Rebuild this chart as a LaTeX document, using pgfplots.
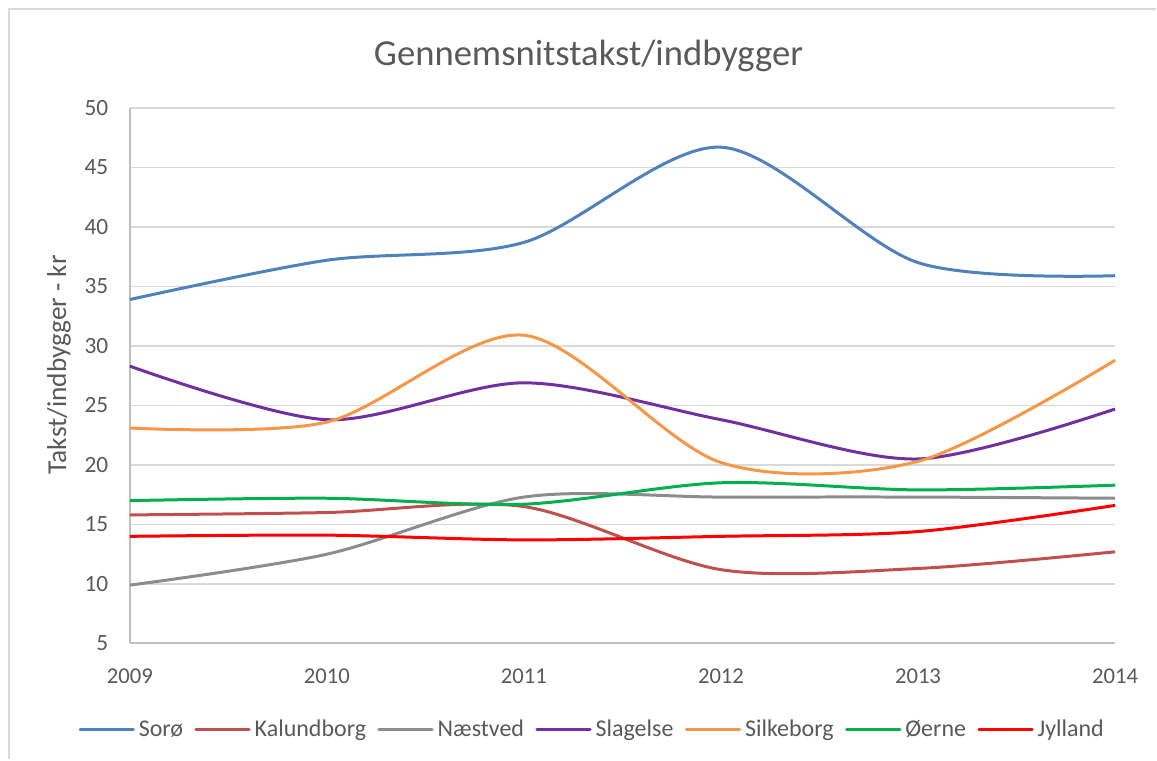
\documentclass[border=0pt]{standalone}
\usepackage{pgfplots}
\pgfplotsset{compat=1.18}
\usepackage{fontspec}
\setmainfont{Carlito}
\definecolor{txt}{HTML}{595959}
\definecolor{grd}{HTML}{D9D9D9}
\definecolor{axl}{HTML}{BFBFBF}
\definecolor{cSoro}{HTML}{4F81BD}
\definecolor{cKal}{HTML}{C0504D}
\definecolor{cNae}{HTML}{8C8C8C}
\definecolor{cSla}{HTML}{7030A0}
\definecolor{cSil}{HTML}{F79646}
\definecolor{cOer}{HTML}{00B050}
\definecolor{cJyl}{HTML}{FF0000}
\begin{document}
\begin{tikzpicture}[x=0.75pt,y=0.75pt]
\path (0,0) rectangle (1157,760);
\draw[grd, line width=1.5pt] (9,0) -- (9,751) -- (1157,751);
\node[anchor=base, font=\fontsize{27.5}{30}\selectfont, text=txt] at (589,694) {Gennemsnitstakst/indbygger};
\node[rotate=90, anchor=center, font=\fontsize{20.5}{23}\selectfont, text=txt] at (59,395) {Takst/indbygger - kr};
\begin{axis}[
  at={(97.5pt,87pt)}, anchor=south west,
  scale only axis, width=739.5pt, height=402pt,
  xmin=2009, xmax=2014, ymin=5, ymax=50,
  xtick={2009,2010,2011,2012,2013,2014},
  ytick={5,10,15,20,25,30,35,40,45,50},
  /pgf/number format/assume math mode=true,
  xticklabel style={/pgf/number format/1000 sep={}, font=\fontsize{17}{19}\selectfont, text=txt, inner sep=0pt, yshift=-18.5pt},
  yticklabel style={font=\fontsize{17.5}{19}\selectfont, text=txt, inner sep=0pt, xshift=-16pt},
  major tick length=0pt,
  ymajorgrids, grid style={grd, line width=1pt},
  axis x line*=bottom, axis y line*=left,
  axis line style={axl, line width=1.5pt, -},
  clip=false,
  every axis plot/.append style={line width=2.25pt, smooth, tension=0.5},
  legend style={draw=none, at={(0.4696,-0.1604)}, anchor=center, legend columns=7,
    font=\fontsize{18}{20}\selectfont, text=txt, inner sep=0pt,
    /tikz/every odd column/.append style={column sep=1pt},
    /tikz/every even column/.append style={column sep=6.5pt}},
  legend image code/.code={\draw[#1, line cap=round] (0pt,0pt) -- (40pt,0pt);},
]
\addplot[cSoro] coordinates {(2009,33.9) (2010,37.2) (2011,38.7) (2012,46.7) (2013,37.0) (2014,35.9)};
\addlegendentry{Sorø}
\addplot[cKal] coordinates {(2009,15.8) (2010,16.0) (2011,16.5) (2012,11.2) (2013,11.3) (2014,12.7)};
\addlegendentry{Kalundborg}
\addplot[cNae] coordinates {(2009,9.9) (2010,12.5) (2011,17.3) (2012,17.3) (2013,17.3) (2014,17.2)};
\addlegendentry{Næstved}
\addplot[cSla] coordinates {(2009,28.3) (2010,23.8) (2011,26.9) (2012,23.8) (2013,20.5) (2014,24.7)};
\addlegendentry{Slagelse}
\addplot[cSil] coordinates {(2009,23.1) (2010,23.6) (2011,30.9) (2012,20.2) (2013,20.3) (2014,28.8)};
\addlegendentry{Silkeborg}
\addplot[cOer] coordinates {(2009,17.0) (2010,17.2) (2011,16.7) (2012,18.5) (2013,17.9) (2014,18.3)};
\addlegendentry{Øerne}
\addplot[cJyl] coordinates {(2009,14.0) (2010,14.1) (2011,13.7) (2012,14.0) (2013,14.4) (2014,16.6)};
\addlegendentry{Jylland}
\end{axis}
\end{tikzpicture}
\end{document}
